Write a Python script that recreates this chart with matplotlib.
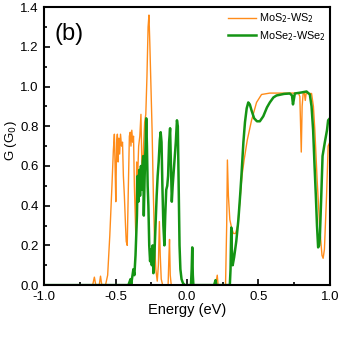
import matplotlib.pyplot as plt
from matplotlib.ticker import MultipleLocator

# MoS2-WS2 transmission (orange)
mos2_x = [-1.0, -0.66, -0.648, -0.638, -0.614, -0.605, -0.596, -0.57, -0.555, -0.54,
          -0.525, -0.515, -0.508, -0.503, -0.498, -0.492, -0.487, -0.482, -0.477, -0.471,
          -0.465, -0.458, -0.451, -0.445, -0.438, -0.43, -0.425, -0.418, -0.41, -0.403,
          -0.397, -0.392, -0.386, -0.38, -0.374, -0.368, -0.358, -0.352, -0.345, -0.338,
          -0.33, -0.322, -0.316, -0.31, -0.304, -0.296, -0.288, -0.28, -0.272, -0.266,
          -0.26, -0.252, -0.244, -0.235, -0.226, -0.218, -0.208, -0.2, -0.193, -0.187,
          -0.18, -0.17, -0.132, -0.126, -0.122, -0.117, -0.11, 0.2, 0.212, 0.218,
          0.27, 0.278, 0.283, 0.29, 0.3, 0.312, 0.325, 0.34, 0.355, 0.37,
          0.385, 0.4, 0.422, 0.452, 0.487, 0.522, 0.58, 0.7, 0.78, 0.79,
          0.8, 0.806, 0.813, 0.822, 0.828, 0.834, 0.872, 0.885, 0.895, 0.911,
          0.93, 0.945, 0.953, 0.962, 0.977, 0.988, 1.0]
mos2_g = [0, 0, 0.04, 0, 0, 0.045, 0, 0, 0.05, 0.25,
          0.5, 0.68, 0.76, 0.6, 0.42, 0.72, 0.76, 0.62, 0.74, 0.66,
          0.76, 0.7, 0.72, 0.55, 0.45, 0.3, 0.22, 0.2, 0.5, 0.75,
          0.77, 0.7, 0.78, 0.72, 0.75, 0.5, 0.25, 0.62, 0.55, 0.7,
          0.75, 0.86, 0.62, 0.55, 0.7, 0.82, 0.86, 1.05, 1.3, 1.36,
          1.22, 1.0, 0.78, 0.45, 0.2, 0.08, 0.02, 0.1, 0.32, 0.15,
          0.03, 0.0, 0, 0.15, 0.23, 0.05, 0, 0, 0.05, 0,
          0, 0.3, 0.63, 0.45, 0.33, 0.29, 0.26, 0.26, 0.3, 0.42,
          0.55, 0.63, 0.73, 0.83, 0.92, 0.96, 0.967, 0.967, 0.967, 0.95,
          0.67, 0.9, 0.965, 0.965, 0.93, 0.965, 0.965, 0.9, 0.78, 0.53,
          0.28, 0.15, 0.135, 0.18, 0.45, 0.70, 0.72]

# MoSe2-WSe2 transmission (green)
mose2_x = [-1.0, -0.41, -0.4, -0.395, -0.39, -0.385, -0.375, -0.368, -0.36, -0.35,
           -0.345, -0.34, -0.334, -0.328, -0.322, -0.316, -0.31, -0.306, -0.302, -0.296,
           -0.29, -0.285, -0.28, -0.275, -0.27, -0.264, -0.258, -0.252, -0.246, -0.24,
           -0.235, -0.228, -0.22, -0.212, -0.205, -0.198, -0.19, -0.184, -0.178, -0.172,
           -0.165, -0.158, -0.152, -0.145, -0.138, -0.132, -0.125, -0.118, -0.112, -0.106,
           -0.1, -0.092, -0.085, -0.078, -0.07, -0.064, -0.058, -0.052, -0.046, -0.038,
           -0.028, -0.015, 0.028, 0.033, 0.037, 0.041, 0.045, 0.19, 0.2, 0.206,
           0.3, 0.305, 0.31, 0.314, 0.32, 0.33, 0.345, 0.36, 0.372, 0.382,
           0.395, 0.406, 0.418, 0.429, 0.44, 0.452, 0.47, 0.49, 0.51, 0.534,
           0.56, 0.58, 0.605, 0.627, 0.68, 0.72, 0.735, 0.742, 0.748, 0.755,
           0.8, 0.837, 0.86, 0.872, 0.883, 0.893, 0.902, 0.91, 0.918, 0.925,
           0.93, 0.94, 0.949, 0.965, 0.98, 0.988, 1.0]
mose2_g = [0, 0, 0.02, 0.03, 0.005, 0.03, 0.08, 0.05, 0.15, 0.35,
           0.55, 0.42, 0.58, 0.45, 0.6, 0.48, 0.62, 0.65, 0.35, 0.55,
           0.7, 0.84, 0.7, 0.5, 0.4, 0.2, 0.12, 0.18, 0.1, 0.2,
           0.06, 0.15, 0.3, 0.45, 0.55, 0.62, 0.73, 0.77, 0.72, 0.5,
           0.3, 0.2, 0.35, 0.48, 0.5, 0.55, 0.72, 0.79, 0.6, 0.42,
           0.5, 0.58, 0.65, 0.72, 0.83, 0.8, 0.5, 0.2, 0.08, 0.03,
           0.01, 0, 0, 0.08, 0.19, 0.05, 0, 0, 0.025, 0,
           0, 0.08, 0.29, 0.18, 0.1, 0.14, 0.22, 0.33, 0.45, 0.56,
           0.72, 0.82, 0.89, 0.92, 0.91, 0.88, 0.84, 0.825, 0.825, 0.85,
           0.895, 0.92, 0.945, 0.955, 0.963, 0.965, 0.955, 0.91, 0.935, 0.965,
           0.97, 0.975, 0.96, 0.9, 0.78, 0.6, 0.45, 0.3, 0.19, 0.2,
           0.24, 0.45, 0.65, 0.72, 0.78, 0.83, 0.84]

ORANGE = "#ff8c1a"
GREEN = "#149414"

plt.rcParams["font.family"] = ["Liberation Sans", "DejaVu Sans"]

fig = plt.figure(figsize=(3.39, 3.39), dpi=100)
ax = fig.add_axes([0.13, 0.159, 0.843, 0.820])

ax.plot(mos2_x, mos2_g, color=ORANGE, lw=1.0, label="MoS$_2$-WS$_2$")
ax.plot(mose2_x, mose2_g, color=GREEN, lw=1.8, label="MoSe$_2$-WSe$_2$")

ax.set_xlim(-1.0, 1.0)
ax.set_ylim(0, 1.4)
ax.xaxis.set_major_locator(MultipleLocator(0.5))
ax.xaxis.set_minor_locator(MultipleLocator(0.25))
ax.yaxis.set_major_locator(MultipleLocator(0.2))
ax.yaxis.set_minor_locator(MultipleLocator(0.1))
ax.xaxis.set_major_formatter(plt.FuncFormatter(lambda v, p: f"{v:.1f}"))
ax.yaxis.set_major_formatter(plt.FuncFormatter(lambda v, p: f"{v:.1f}"))
ax.tick_params(which="major", direction="in", length=4.5, width=1.2,
               labelsize=9.5, pad=4)
ax.tick_params(which="minor", direction="in", length=2.2, width=1.2)
for s in ax.spines.values():
    s.set_linewidth(1.5)

ax.set_xlabel("Energy (eV)", fontsize=10.5, labelpad=0)
ax.set_ylabel("G (G$_0$)", fontsize=9.5)
ax.yaxis.set_label_coords(-0.088, 0.52)
ax.text(0.035, 0.905, "(b)", transform=ax.transAxes, fontsize=17, va="center")

ax.legend(loc="upper left", bbox_to_anchor=(0.615, 1.015), frameon=False,
          fontsize=7.8, handlelength=2.5, handletextpad=0.35, labelspacing=0.35,
          borderpad=0.3)

fig.savefig("out.png", dpi=100)
